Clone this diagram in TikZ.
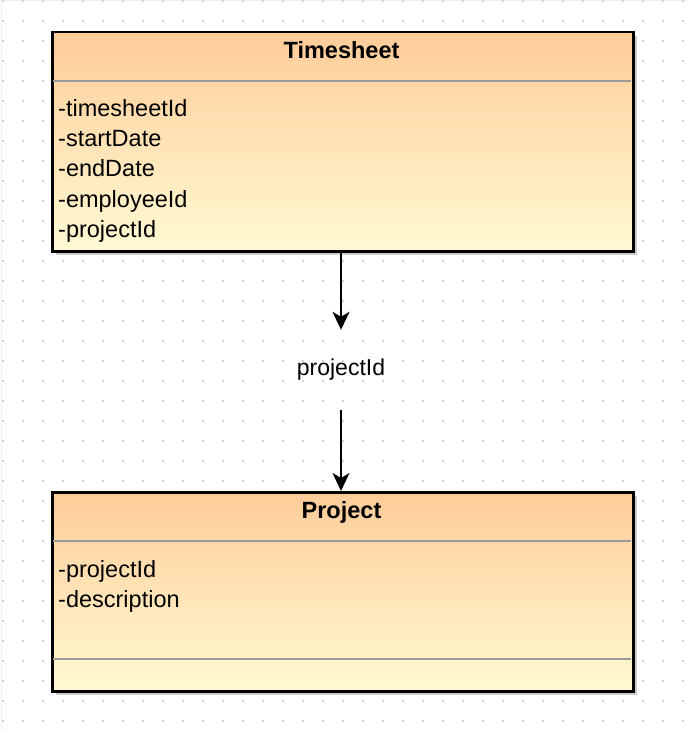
\documentclass[tikz,border=0pt]{standalone}
\usepackage{fontspec}
\setmainfont{Liberation Sans}
\usepackage{xcolor}
\usetikzlibrary{positioning, arrows.meta, shadows}
\definecolor{classtop}{HTML}{FFCC99}
\definecolor{classbottom}{HTML}{FFFAD2}
\definecolor{sepgray}{HTML}{9A9A9A}
\definecolor{griddot}{HTML}{D2D2D2}
\definecolor{gridedge}{HTML}{EEEEEE}

\begin{document}
\begin{tikzpicture}[x=1pt, y=-1pt,
    umlclass/.style={draw=black, line width=2.5pt, rectangle, inner sep=0pt,
        minimum width=581pt, anchor=north west,
        top color=classtop, bottom color=classbottom,
        drop shadow={shadow xshift=4pt, shadow yshift=-4pt, fill=black!20, opacity=1}},
    classtitle/.style={font=\fontsize{23.5}{27}\selectfont\bfseries, anchor=base, inner sep=0pt},
    classattr/.style={font=\fontsize{23.5}{30}\selectfont, anchor=base west, inner sep=0pt},
    classsep/.style={draw=sepgray, line width=2pt},
    linklabel/.style={font=\fontsize{23}{27}\selectfont, inner sep=0pt, minimum height=80pt},
    linkarrow/.style={draw=black, line width=2pt, -{Stealth[length=18pt, width=17pt, inset=5pt]}}]

    \useasboundingbox (0,0) rectangle (686,730);
    \fill[white] (0,0) rectangle (686,730);
    \draw[gridedge, line width=1pt] (1.5,0) -- (1.5,730);
    \draw[gridedge, line width=1pt] (0,0.5) -- (686,0.5);
    \foreach \gx in {3,23,...,683}
        \foreach \gy in {1,21,...,721}
            \fill[griddot] (\gx-0.75,\gy-0.75) rectangle +(1.5,1.5);

    \node[umlclass, minimum height=219pt] (timesheet) at (51,31) {};
    \node[classtitle] (timesheet-title) at (341.5,58.5) {Timesheet};
    \draw[classsep] (52.5,81) -- (630.5,81);
    \foreach \attr [count=\i] in {-timesheetId,-startDate,-endDate,-employeeId,-projectId}
        \node[classattr] (timesheet-attr-\i) at (58,{117+30*(\i-1)}) {\attr};

    \node[umlclass, minimum height=199pt] (project) at (51,491) {};
    \node[classtitle] (project-title) at (341.5,518.5) {Project};
    \draw[classsep] (52.5,541) -- (630.5,541);
    \draw[classsep] (52.5,659) -- (630.5,659);
    \foreach \attr [count=\i] in {-projectId,-description}
        \node[classattr] (project-attr-\i) at (58,{577+30*(\i-1)}) {\attr};

    \node[linklabel] (link) at (341,370) {projectId};
    \draw[linkarrow] (link.north |- timesheet.south) -- (link.north);
    \draw[linkarrow] (link.south) -- (link.south |- project.north);
\end{tikzpicture}
\end{document}
